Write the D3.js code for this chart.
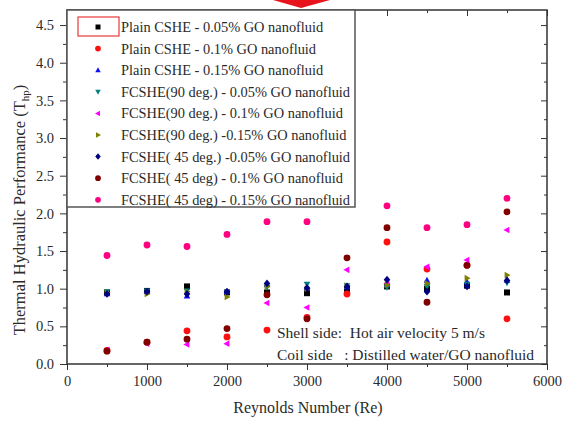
<!DOCTYPE html>
<html><head><meta charset="utf-8">
<script src="https://cdn.jsdelivr.net/npm/d3@7"></script>
<style>
body{margin:0;background:#fff;}
text{font-family:"Liberation Serif","Times New Roman",serif;fill:#2a2a2a;}
</style></head>
<body><svg id="c" width="567" height="421"></svg>
<script>
const reynolds = [500,1000,1500,2000,2500,3000,3500,4000,4500,5000,5500];
const seriesNames = [
  "Plain CSHE - 0.05% GO nanofluid",
  "Plain CSHE - 0.1% GO nanofluid",
  "Plain CSHE - 0.15% GO nanofluid",
  "FCSHE(90 deg.) - 0.05% GO nanofluid",
  "FCSHE(90 deg.) - 0.1% GO nanofluid",
  "FCSHE(90 deg.) -0.15% GO nanofluid",
  "FCSHE( 45 deg.) -0.05% GO nanofluid",
  "FCSHE( 45 deg) - 0.1% GO nanofluid",
  "FCSHE( 45 deg) - 0.15% GO nanofluid"
];
const plain005 = [0.95,0.97,1.03,0.95,0.95,0.94,0.99,1.03,1.00,1.04,0.95];
const plain01  = [0.18,0.29,0.44,0.36,0.45,0.62,0.93,1.62,1.26,1.31,0.60];
const plain015 = [0.93,0.96,0.90,0.96,1.05,1.01,1.02,1.05,1.11,1.09,1.11];
const f90_005  = [0.96,0.97,0.97,0.95,1.02,1.06,1.04,1.02,1.03,1.06,1.08];
const f90_01   = [0.19,0.27,0.26,0.27,0.81,0.75,1.25,1.07,1.29,1.38,1.78];
const f90_015  = [0.95,0.93,0.96,0.89,1.03,1.00,1.04,1.05,1.07,1.14,1.18];
const f45_005  = [0.93,0.96,0.93,0.96,1.07,1.01,1.03,1.12,0.96,1.03,1.11];
const f45_01   = [0.17,0.29,0.33,0.47,0.92,0.60,1.41,1.81,0.82,1.31,2.02];
const f45_015  = [1.44,1.58,1.56,1.72,1.89,1.89,null,2.10,1.81,1.85,2.20];
const xTicks = [0,1000,2000,3000,4000,5000,6000];
const yTicks = [0.0,0.5,1.0,1.5,2.0,2.5,3.0,3.5,4.0,4.5];

const seriesValues = [plain005,plain01,plain015,f90_005,f90_01,f90_015,f45_005,f45_01,f45_015];
const colors = ["#000000","#ff1010","#1010ee","#008080","#ff00ff","#808000","#000080","#800000","#ff0080"];
const shapes = ["square","circle","triUp","triDown","triLeft","triRight","diamond","circle","circle"];

const svg = d3.select("#c");
const L=67,R=547,T=10,B=364;
const x = d3.scaleLinear().domain([0,6000]).range([L,R]);
const y = d3.scaleLinear().domain([0,4.7]).range([B,T]);

function symPath(shape, s){
  switch(shape){
    case "square": return `M${-s},${-s}h${2*s}v${2*s}h${-2*s}Z`;
    case "triUp": return `M0,${-s*1.2}L${s*1.1},${s*0.8}L${-s*1.1},${s*0.8}Z`;
    case "triDown": return `M0,${s*1.2}L${s*1.1},${-s*0.8}L${-s*1.1},${-s*0.8}Z`;
    case "triLeft": return `M${-s*1.2},0L${s*0.8},${-s*1.1}L${s*0.8},${s*1.1}Z`;
    case "triRight": return `M${s*1.2},0L${-s*0.8},${-s*1.1}L${-s*0.8},${s*1.1}Z`;
    case "diamond": return `M0,${-s*1.3}L${s*1.1},0L0,${s*1.3}L${-s*1.1},0Z`;
    default: return d3.symbol(d3.symbolCircle, Math.PI*s*s*1.3)();
  }
}

// red arrow artifact at top
svg.append("path").attr("d","M273,0L330,0L301,8Z").attr("fill","#e8141c");

// data points
seriesValues.forEach((vals,i)=>{
  svg.append("g").selectAll("path")
    .data(reynolds.map((r,j)=>({r,v:vals[j]})).filter(d=>d.v!==null))
    .join("path")
    .attr("transform",d=>`translate(${x(d.r)},${y(d.v)})`)
    .attr("d",symPath(shapes[i],3))
    .attr("fill",colors[i]);
});

// axes
svg.append("g").attr("transform",`translate(0,${B})`)
  .call(d3.axisBottom(x).tickValues(xTicks).tickFormat(d3.format("d")).tickSize(6).tickPadding(6));
svg.append("g").attr("transform",`translate(0,${B})`)
  .call(d3.axisBottom(x).tickValues(d3.range(500,6000,1000)).tickFormat("").tickSize(3));
svg.append("g").attr("transform",`translate(${L},0)`)
  .call(d3.axisLeft(y).tickValues(yTicks).tickFormat(d3.format(".1f")).tickSize(7).tickPadding(6));
svg.append("g").attr("transform",`translate(${L},0)`)
  .call(d3.axisLeft(y).tickValues(d3.range(0.25,4.7,0.5)).tickFormat("").tickSize(4));
svg.append("g").attr("transform",`translate(0,${T})`)
  .call(d3.axisTop(x).tickValues(xTicks).tickFormat("").tickSize(-6));
svg.append("g").attr("transform",`translate(0,${T})`)
  .call(d3.axisTop(x).tickValues(d3.range(500,6000,1000)).tickFormat("").tickSize(-3));
svg.append("g").attr("transform",`translate(${R},0)`)
  .call(d3.axisRight(y).tickValues(yTicks).tickFormat("").tickSize(-6));
svg.append("g").attr("transform",`translate(${R},0)`)
  .call(d3.axisRight(y).tickValues(d3.range(0.25,4.7,0.5)).tickFormat("").tickSize(-3));
svg.selectAll(".domain").remove();
svg.selectAll(".tick line").attr("stroke","#333").attr("stroke-width",1);
svg.selectAll(".tick text").attr("font-size",14.5).attr("fill","#2a2a2a")
  .attr("font-family","Liberation Serif, serif");

svg.append("rect").attr("x",L).attr("y",T).attr("width",R-L).attr("height",B-T)
  .attr("fill","none").attr("stroke","#333").attr("stroke-width",1.5);

// legend
const lg = svg.append("g");
lg.append("rect").attr("x",L).attr("y",T).attr("width",288).attr("height",197)
  .attr("fill","#fff").attr("stroke","#555").attr("stroke-width",1.5);
seriesNames.forEach((n,i)=>{
  const cy = 27 + i*21.6;
  lg.append("path").attr("transform",`translate(98,${cy})`).attr("d",symPath(shapes[i],2.5)).attr("fill",colors[i]);
  lg.append("text").attr("x",121).attr("y",cy+5).attr("font-size",14.4).text(n);
});
lg.append("rect").attr("x",78).attr("y",17).attr("width",41).attr("height",19)
  .attr("fill","none").attr("stroke","#e83a3a").attr("stroke-width",1.2);

// annotations
svg.append("text").attr("x",277).attr("y",338).attr("font-size",15.5).style("white-space","pre")
  .text("Shell side:  Hot air velocity 5 m/s");
svg.append("text").attr("x",277).attr("y",360).attr("font-size",15.5).style("white-space","pre")
  .text("Coil side   : Distilled water/GO nanofluid");

// axis titles
svg.append("text").attr("x",308).attr("y",413).attr("text-anchor","middle").attr("font-size",16)
  .text("Reynolds Number (Re)");
const yt = svg.append("text").attr("transform","translate(25,210) rotate(-90)").attr("text-anchor","middle").attr("font-size",16.5);
yt.append("tspan").text("Thermal Hydraulic Performance (T");
yt.append("tspan").attr("font-size",11).attr("dy",4).text("hp");
yt.append("tspan").attr("dy",-4).text(")");
</script></body></html>
